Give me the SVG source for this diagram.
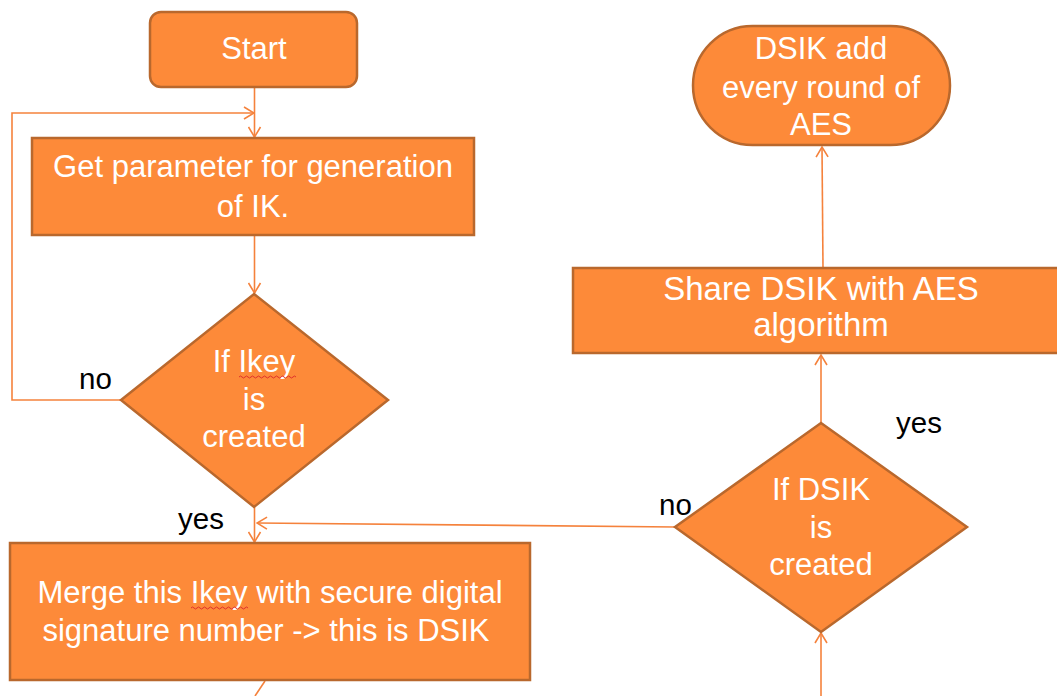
<svg xmlns="http://www.w3.org/2000/svg" width="1057" height="696" viewBox="0 0 1057 696">
  <defs>
    <style>
      .shape { fill: #FD8A39; stroke: #B9682D; stroke-width: 2.5; }
      .txt { font-family: "Liberation Sans", Arial, sans-serif; font-size: 31px; fill: #FFFFFF; text-anchor: middle; }
      .big { font-size: 33px; }
      .lbl { font-family: "Liberation Sans", Arial, sans-serif; font-size: 29.5px; fill: #000000; }
      .link { fill: none; stroke: #F5823C; stroke-width: 1.6; }
      .squiggle { fill: none; stroke: #E0302A; stroke-width: 1; }
    </style>
    <marker id="arrow" viewBox="0 0 12 14" refX="11" refY="7" markerWidth="12" markerHeight="14" markerUnits="userSpaceOnUse" orient="auto">
      <path d="M1,1 L11,7 L1,13" fill="none" stroke="#F5823C" stroke-width="1.6"/>
    </marker>
  </defs>

  <rect width="1057" height="696" fill="#FFFFFF"/>

  <!-- connectors -->
  <g id="connectors">
    <line class="link" x1="254.5" y1="87" x2="254.5" y2="137" marker-end="url(#arrow)"/>
    <polyline class="link" points="121,400 12,400 12,113 254,113" marker-end="url(#arrow)"/>
    <line class="link" x1="254.5" y1="235" x2="254.5" y2="293" marker-end="url(#arrow)"/>
    <line class="link" x1="254.5" y1="507" x2="254.5" y2="542" marker-end="url(#arrow)"/>
    <line class="link" x1="675" y1="527" x2="257" y2="523" marker-end="url(#arrow)"/>
    <line class="link" x1="265" y1="681" x2="255" y2="696"/>
    <line class="link" x1="821" y1="696" x2="821" y2="633" marker-end="url(#arrow)"/>
    <line class="link" x1="821" y1="423" x2="821" y2="355" marker-end="url(#arrow)"/>
    <line class="link" x1="823" y1="268" x2="822" y2="147" marker-end="url(#arrow)"/>
  </g>

  <!-- nodes -->
  <g id="start">
    <rect class="shape" x="150" y="12" width="207" height="75" rx="11"/>
    <text class="txt" x="254" y="59">Start</text>
  </g>

  <g id="get-parameter">
    <rect class="shape" x="32" y="138" width="442" height="97"/>
    <text class="txt" x="253" y="177">Get parameter for generation</text>
    <text class="txt" x="253" y="217">of IK.</text>
  </g>

  <g id="ikey-check">
    <polygon class="shape" points="254,294 388,400 254,507 121,400"/>
    <text class="txt" x="254" y="372">If Ikey</text>
    <path class="squiggle" d="M239,377 q1.5,-2 3,0 t3,0 t3,0 t3,0 t3,0 t3,0 t3,0 t3,0 t3,0 t3,0 t3,0 t3,0 t3,0 t3,0 t3,0 t3,0 t3,0 t3,0 t3,0"/>
    <text class="txt" x="254" y="410">is</text>
    <text class="txt" x="254" y="447">created</text>
  </g>

  <g id="merge">
    <rect class="shape" x="10" y="543" width="520" height="137"/>
    <text class="txt" x="270" y="603">Merge this Ikey with secure digital</text>
    <path class="squiggle" d="M191,608 q1.5,-2 3,0 t3,0 t3,0 t3,0 t3,0 t3,0 t3,0 t3,0 t3,0 t3,0 t3,0 t3,0 t3,0 t3,0 t3,0 t3,0 t3,0 t3,0 t3,0"/>
    <text class="txt" x="266" y="641">signature number -&gt; this is DSIK</text>
  </g>

  <g id="dsik-check">
    <polygon class="shape" points="821,423 967,527 821,632 675,527"/>
    <text class="txt" x="821" y="500">If DSIK</text>
    <text class="txt" x="821" y="538">is</text>
    <text class="txt" x="821" y="575">created</text>
  </g>

  <g id="share">
    <rect class="shape" x="573" y="268" width="500" height="85"/>
    <text class="txt big" x="821" y="300">Share DSIK with AES</text>
    <text class="txt big" x="821" y="336">algorithm</text>
  </g>

  <g id="dsik-add">
    <rect class="shape" x="693" y="26" width="257" height="119" rx="59.5"/>
    <text class="txt" x="821" y="59">DSIK add</text>
    <text class="txt" x="821" y="98">every round of</text>
    <text class="txt" x="821" y="135">AES</text>
  </g>

  <!-- branch labels -->
  <g id="labels">
    <text class="lbl" x="79" y="389">no</text>
    <text class="lbl" x="178" y="529">yes</text>
    <text class="lbl" x="659" y="515">no</text>
    <text class="lbl" x="896" y="433">yes</text>
  </g>
</svg>
